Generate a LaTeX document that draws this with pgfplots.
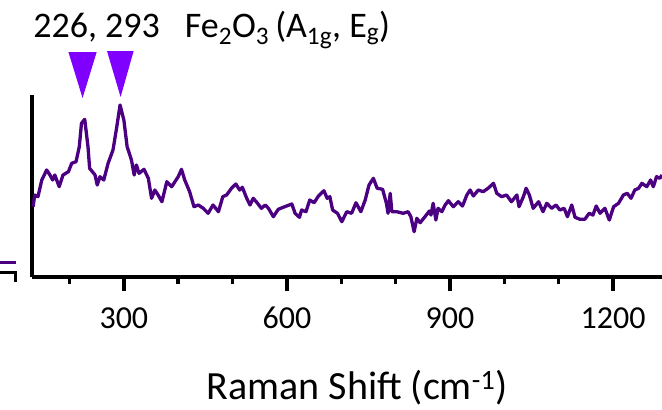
\documentclass[border=0pt]{standalone}
\usepackage{fontspec}
\setmainfont{Carlito}
\usepackage{xcolor}
\definecolor{specline}{RGB}{75,0,130}
\definecolor{peakmark}{RGB}{128,0,255}
\usepackage{pgfplots}
\pgfplotsset{compat=1.18}

\begin{document}
\begin{tikzpicture}
\begin{axis}[
    scale only axis,
    width=630pt, height=182pt,
    xmin=131, xmax=1290,
    ymin=0, ymax=182,
    clip=false,
    axis lines*=left,
    axis line style={line width=3.5pt, black},
    xtick={300,600,900,1200},
    minor xtick={200,400,500,700,800,1000,1100},
    ytick=\empty,
    tick align=outside,
    major tick length=14pt,
    minor tick length=7pt,
    every tick/.style={line width=3.5pt, black},
    /pgf/number format/assume math mode=true,
    /pgf/number format/1000 sep={},
    xticklabel style={font=\fontsize{32}{38}\selectfont, anchor=base, inner sep=0pt, yshift=-37pt},
    xlabel={Raman Shift (cm\textsuperscript{-1})},
    xlabel style={font=\fontsize{40}{48}\selectfont, at={(axis description cs:0.5,0)},
                  anchor=base, inner sep=0pt, yshift=-122pt, xshift=10pt},
  ]

  %% spectrum
  \addplot[specline, line width=3.3pt, mark=none, line join=round] coordinates {
    (133,70.3) (136,82) (142,80.3) (149,97) (158,107) (164,102) (169,97)
    (173,102) (181,90.3) (188,102) (198,105.3) (204,113.7) (212,115.3)
    (218,130.3) (222,153.7) (228,157.7) (234,130.3) (237,108.7) (247,102)
    (251,92) (256,100.3) (263,97) (271,113.7) (280,127) (287,150.3)
    (293,172) (300,157) (306,130.3) (314,117) (319,102) (323,112)
    (328,103.7) (337,107.7) (345,98.7) (351,78.7) (357,87) (363,82)
    (370,75.3) (379,95.3) (388,90.3) (400,100.3) (406,107.7) (412,97)
    (421,85.3) (429,70.3) (437,72) (446,68.7) (455,63.7) (464,72)
    (474,65.3) (482,80.3) (489,82) (498,88.7) (506,93) (513,87) (518,89.7)
    (526,78.7) (532,72) (538,78.7) (545,74.3) (553,68.7) (560,72)
    (566,68.7) (575,60.3) (584,67.7) (596,70.3) (609,73) (615,63.7)
    (623,59.7) (627,67) (635,65.3) (642,77) (650,74.3) (658,81) (668,86.3)
    (674,78.7) (679,80.3) (684,67) (693,63.7) (701,55.3) (710,65.3)
    (719,63.7) (727,74.3) (736,65.3) (744,77) (751,92) (759,98.7)
    (766,88.7) (776,87.7) (783,73.7) (786,63.7) (790,83.7) (793,65.3)
    (802,65.3) (814,63.7) (823,65.3) (828,60.3) (834,45.3) (839,58.7)
    (845,54.3) (854,60.3) (862,66) (865,62) (869,73.7) (874,57) (878,68.7)
    (885,65.3) (891,72) (897,76.3) (906,70.3) (915,75.3) (923,71) (931,82)
    (937,87) (943,81) (952,87) (961,85.3) (970,88.7) (980,93.7) (986,83.7)
    (995,80.3) (1004,82) (1013,75.3) (1023,82) (1027,70.3) (1035,80.3)
    (1040,88.7) (1046,82) (1053,68.7) (1063,75.3) (1071,65.3) (1078,73.7)
    (1087,68.7) (1095,72) (1102,67) (1110,68.7) (1116,60.3) (1124,72)
    (1130,59.7) (1139,57.7) (1148,57.7) (1156,63.7) (1163,62) (1169,71)
    (1176,63.7) (1185,68.7) (1193,57) (1201,70.3) (1210,73.7) (1219,82)
    (1226,83.7) (1233,78.7) (1240,87) (1247,88.7) (1253,93.7) (1262,90.3)
    (1269,97) (1274,90.3) (1280,100.3) (1286,98.7) (1290,102)
  };

  %% peak markers
  \addplot[fill=peakmark, draw=none] coordinates {(198,225) (250,225) (224,179)};
  \addplot[fill=peakmark, draw=none] coordinates {(269,226) (318,226) (294,180)};

  \node[anchor=base west, inner sep=0pt, font=\fontsize{36}{43}\selectfont]
      at (axis cs:133,240) {226, 293};
  \node[anchor=base west, inner sep=0pt, font=\fontsize{36}{43}\selectfont]
      at (axis cs:412,240)
      {Fe\textsubscript{2}O\textsubscript{3}\,(A\textsubscript{1g}, E\textsubscript{g})};
\end{axis}

%% edge of the neighbouring panel
\draw[specline, line width=3pt] (-32pt,14.3pt) -- (-16pt,14.3pt);
\draw[black, line width=3pt] (-32pt,5pt) -- (-16pt,5pt) -- (-16pt,-5pt);

\pgfresetboundingbox
\path[use as bounding box] (-32pt,-133pt) rectangle (630pt,277pt);
\end{tikzpicture}
\end{document}
